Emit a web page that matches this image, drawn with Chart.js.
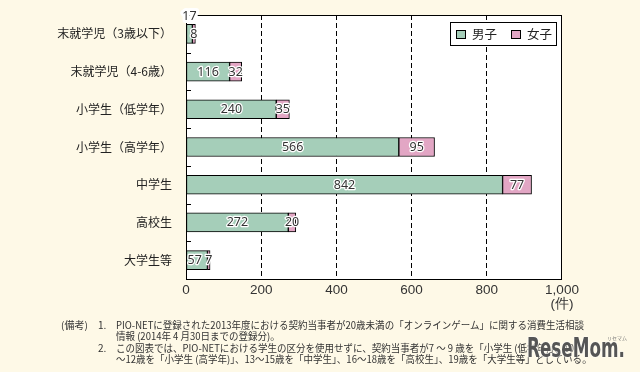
<!DOCTYPE html>
<html><head><meta charset="utf-8">
<script src="https://cdn.jsdelivr.net/npm/chart.js@4/dist/chart.umd.min.js"></script>
<style>
html,body{margin:0;padding:0;background:#FEF9E7;width:640px;height:372px;overflow:hidden;}
#wrap{position:relative;width:640px;height:372px;}
#c{position:absolute;left:0;top:0;width:640px;height:372px;}
.note{position:absolute;font-family:"Noto Sans CJK JP";font-size:10px;line-height:12px;color:#333;white-space:nowrap;transform-origin:0 50%;}
#wm{position:absolute;left:527px;top:333px;font-family:"DejaVu Sans Condensed","DejaVu Sans";font-weight:bold;font-size:27px;line-height:30px;color:#555;white-space:nowrap;transform-origin:0 50%;text-shadow:0 0 2px #fff,0 0 2px #fff;}
#wm2{position:absolute;left:607px;top:335px;font-family:"Noto Sans CJK JP";font-size:5px;line-height:6px;color:#777;white-space:nowrap;}
</style></head><body>
<div id="wrap"><canvas id="c" width="640" height="372"></canvas>
<div class="note" style="left:61px;top:319px">(備考)</div>
<div class="note" style="left:98px;top:319px">1.</div>
<div class="note fit" style="left:116px;top:319px">PIO-NETに登録された2013年度における契約当事者が20歳未満の「オンラインゲーム」に関する消費生活相談</div>
<div class="note fit" style="left:116px;top:330px">情報 (2014年 4 月30日までの登録分)。</div>
<div class="note" style="left:98px;top:342px">2.</div>
<div class="note fit" style="left:116px;top:342px">この図表では、PIO-NETにおける学生の区分を使用せずに、契約当事者が7 ～ 9 歳を「小学生 (低学年)」、10</div>
<div class="note fit" style="left:116px;top:353px">～12歳を「小学生 (高学年)」、13～15歳を「中学生」、16～18歳を「高校生」、19歳を「大学生等」としている。</div>
<div id="wm2">リセマム</div>
<div id="wm">ReseMom.</div>
</div>
<script>
const categories = ['末就学児（3歳以下）','末就学児（4-6歳）','小学生（低学年）','小学生（高学年）','中学生','高校生','大学生等'];
const boys  = [17, 116, 240, 566, 842, 272, 57];
const girls = [8, 32, 35, 95, 77, 20, 7];
const seriesNames = ['男子', '女子'];
const xTicks = [0, 200, 400, 600, 800, 1000];
const unitLabel = '(件)';

(function(){
  const fits = document.querySelectorAll('.fit');
  const s = 468 / fits[0].getBoundingClientRect().width;
  fits.forEach(el => el.style.transform = 'scaleX(' + s + ')');
  const wm = document.getElementById('wm');
  wm.style.transform = 'scaleX(' + (98 / wm.getBoundingClientRect().width) + ')';
})();

const framePlugin = {
  id: 'frame',
  beforeDraw(chart) {
    const {ctx, chartArea: a} = chart;
    ctx.save();
    ctx.fillStyle = '#FEF9E7';
    ctx.fillRect(0, 0, chart.width, chart.height);
    ctx.fillStyle = '#FFFFFF';
    ctx.fillRect(a.left, a.top, a.right - a.left, a.bottom - a.top);
    ctx.restore();
  },
  afterDatasetsDraw(chart) {
    const {ctx, chartArea: a} = chart;
    const ys = chart.scales.y;
    ctx.save();
    ctx.strokeStyle = '#000';
    ctx.lineWidth = 1;
    ctx.strokeRect(Math.round(a.left) + 0.5, Math.round(a.top) + 0.5, Math.round(a.right - a.left) - 1, Math.round(a.bottom - a.top));
    ctx.beginPath();
    for (let i = 0; i < categories.length - 1; i++) {
      const y = Math.round((ys.getPixelForValue(i) + ys.getPixelForValue(i + 1)) / 2) + 0.5;
      ctx.moveTo(a.left, y);
      ctx.lineTo(a.left + 5, y);
    }
    ctx.stroke();
    ctx.restore();
  }
};

const labelPlugin = {
  id: 'vlabels',
  afterDatasetsDraw(chart) {
    const ctx = chart.ctx;
    ctx.save();
    ctx.font = '12.5px "Noto Sans", "Liberation Sans", sans-serif';
    ctx.textAlign = 'center';
    ctx.textBaseline = 'middle';
    ctx.lineJoin = 'round';
    const prevRight = [];
    chart.data.datasets.forEach((ds, di) => {
      const meta = chart.getDatasetMeta(di);
      meta.data.forEach((bar, i) => {
        const p = bar.getProps(['x', 'y', 'base', 'height'], true);
        let cx = (p.x + p.base) / 2;
        let cy = p.y;
        let halo = 2.5;
        const t = String(ds.data[i]);
        const w = ctx.measureText(t).width;
        if (di === 0 && i === 0) { cy = p.y - p.height / 2 - 8.5; halo = 6; }
        else if (di === 0 && Math.abs(p.x - p.base) < w + 12) cx = p.base + w / 2 + 1;
        if (di > 0 && i > 0 && prevRight[i] !== undefined) cx = Math.max(cx, prevRight[i] + 3 + w / 2);
        if (di === 0 && i > 0) prevRight[i] = cx + w / 2;
        ctx.strokeStyle = '#fff';
        ctx.lineWidth = halo;
        ctx.strokeText(t, cx, cy + 0.5);
        ctx.fillStyle = '#333';
        ctx.fillText(t, cx, cy + 0.5);
      });
    });
    ctx.restore();
  }
};

const legendPlugin = {
  id: 'boxLegend',
  afterDraw(chart) {
    const {ctx, chartArea: a} = chart;
    const bx = a.right - 112, by = a.top + 7, bw = 106, bh = 23;
    ctx.save();
    ctx.fillStyle = '#fff';
    ctx.fillRect(bx, by, bw, bh);
    ctx.strokeStyle = '#000';
    ctx.lineWidth = 1;
    ctx.strokeRect(bx + 0.5, by + 0.5, bw, bh);
    ctx.font = '12.5px "Noto Sans CJK JP"';
    ctx.textBaseline = 'middle';
    ctx.textAlign = 'left';
    let x = bx + 6;
    chart.data.datasets.forEach(ds => {
      ctx.fillStyle = ds.backgroundColor;
      ctx.fillRect(x, by + 8, 10, 9);
      ctx.strokeRect(x + 0.5, by + 8.5, 9, 8);
      ctx.fillStyle = '#222';
      ctx.fillText(ds.label, x + 16, by + 12);
      x += 16 + ctx.measureText(ds.label).width + 14;
    });
    ctx.restore();
  }
};

new Chart(document.getElementById('c'), {
  type: 'bar',
  data: {
    labels: categories,
    datasets: [
      {label: seriesNames[0], data: boys, backgroundColor: '#A5CEB9', borderColor: '#000', borderWidth: 1, borderSkipped: false, barThickness: 19},
      {label: seriesNames[1], data: girls, backgroundColor: '#E2A6C4', borderColor: '#000', borderWidth: 1, borderSkipped: false, barThickness: 19}
    ]
  },
  options: {
    indexAxis: 'y',
    responsive: false,
    animation: false,
    layout: {padding: {top: 15, right: 78, left: 0, bottom: 0}},
    plugins: {legend: {display: false}, tooltip: {enabled: false}},
    scales: {
      x: {
        stacked: true, min: 0, max: 1000,
        afterBuildTicks: s => { s.ticks = xTicks.map(v => ({value: v})); },
        grid: {
          color: c => (c.tick && (c.tick.value === 0 || c.tick.value === 1000)) ? 'rgba(0,0,0,0)' : '#000',
          drawTicks: false, lineWidth: 1
        },
        border: {display: false, dash: [5, 3]},
        ticks: {
          padding: 5, color: '#333',
          font: {family: '"Liberation Sans", Arial, sans-serif', size: 13.5, lineHeight: 1.0},
          callback: v => v === 1000 ? ['1,000', unitLabel] : v.toLocaleString('en-US')
        },
        afterFit: s => { s.height = 372 - 279; }
      },
      y: {
        stacked: true,
        grid: {display: false},
        border: {display: false},
        ticks: {padding: 6, color: '#222', font: {family: '"Noto Sans CJK JP"', size: 12}},
        afterFit: s => { s.width = 186; }
      }
    }
  },
  plugins: [framePlugin, labelPlugin, legendPlugin]
});
</script>
</body></html>
